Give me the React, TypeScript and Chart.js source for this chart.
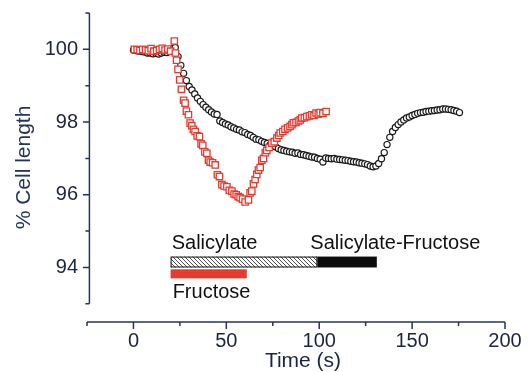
import { useEffect, useRef } from "react";
import { Chart, registerables } from "chart.js";

Chart.register(...registerables);

// ---- data ----
const fructoseTime = [
  0.5, 2, 3.5, 5, 6.5, 8, 9.5, 11, 12.5, 14, 15.5, 17, 18.5, 20, 22,
  22.6, 23.2, 24, 24.9, 25.8, 27, 27.8, 28.5, 29.6, 30.5, 31.4, 32.3, 33.2, 34.3, 35.5,
  36.4, 37.3, 38.4, 39.5, 40.4, 41.3, 42.6, 44, 45.2, 46.3, 47.6, 48.8, 50.3, 51.6, 53,
  54.2, 55.3, 56.4, 57.4, 58.7, 60.1, 61.9, 62.8, 63.7, 64.6, 65.5, 66.4, 67.3, 68.2, 69.1,
  70, 71, 71.8, 73, 74.5, 75.8, 77.2, 78.2, 79, 80.4, 81.6, 83, 84.3, 85.3, 86.1,
  87.5, 88.8, 89.8, 90.6, 92, 93.3, 94.7, 96, 97.2, 98.3, 99.5, 100.5, 102, 103.7,
];
const fructoseLength = [
  100.0, 99.99, 99.97, 100.0, 99.98, 99.96, 100.02, 99.95, 99.97, 100.0, 100.03, 99.98, 100.01, 99.95, 100.23,
  99.9, 99.7, 99.45, 99.16, 98.9, 98.6, 98.52, 98.3, 98.2, 97.97, 97.9, 97.8, 97.74, 97.62, 97.6,
  97.4, 97.36, 97.18, 97.14, 96.95, 96.9, 96.88, 96.82, 96.55, 96.5, 96.28, 96.24, 96.22, 96.12, 96.1,
  96.02, 96.0, 95.95, 95.92, 95.88, 95.8, 95.86, 96.05, 96.1, 96.3, 96.42, 96.56, 96.68, 96.75, 96.95,
  97.0, 97.16, 97.22, 97.3, 97.42, 97.46, 97.56, 97.63, 97.7, 97.74, 97.8, 97.84, 97.88, 97.93, 97.98,
  97.99, 98.03, 98.06, 98.11, 98.12, 98.15, 98.17, 98.2, 98.18, 98.25, 98.22, 98.26, 98.24, 98.29,
];

const salicylateTime = [
  0, 1.5, 3, 4.5, 6, 7.5, 9, 10.5, 12, 13.5, 15, 16.5, 18, 19.5, 21, 22.5, 24, 25.5, 27, 28.5,
  30, 31.5, 33, 34.5, 36, 37.5, 39, 40.5, 42, 43.5, 45, 46.5, 48, 49.5, 51, 52.5, 54, 55.5, 57, 58.5,
  60, 61.5, 63, 64.5, 66, 67.5, 69, 70.5, 72, 73.5, 75, 76.5, 78, 79.5, 81, 82.5, 84, 85.5, 87, 88.5,
  90, 91.5, 93, 94.5, 96, 97.5, 99, 100.5, 102, 103.5, 105, 106.5, 108, 109.5, 111, 112.5, 114, 115.5, 117, 118.5,
  120, 121.5, 123, 124.5, 126, 127.5, 129, 130.5, 132, 133.5, 135, 136.5, 138, 139.5, 141, 142.5, 144, 145.5, 147, 148.5,
  150, 151.5, 153, 154.5, 156, 157.5, 159, 160.5, 162, 163.5, 165, 166.5, 168, 169.5, 171, 172.5, 174, 175.5,
];
const salicylateLength = [
  99.98, 99.97, 99.95, 99.94, 99.93, 99.9, 99.9, 99.88, 99.89, 99.87, 99.9, 99.92, 99.91, 99.95, 100.02, 100.05, 99.8, 99.56, 99.34, 99.14,
  98.98, 98.88, 98.77, 98.66, 98.57, 98.48, 98.41, 98.34, 98.28, 98.22, 98.21, 98.03, 97.99, 97.95, 97.92, 97.87, 97.84, 97.8, 97.78, 97.73,
  97.71, 97.66, 97.63, 97.58, 97.53, 97.51, 97.47, 97.44, 97.41, 97.37, 97.34, 97.32, 97.27, 97.24, 97.22, 97.2, 97.18, 97.17, 97.14, 97.15,
  97.11, 97.1, 97.08, 97.06, 97.04, 97.03, 97.0, 96.98, 96.9, 97.01, 97.0, 96.99, 97.0, 96.98, 96.97, 96.96, 96.95, 96.94, 96.92, 96.91,
  96.9, 96.88, 96.87, 96.85, 96.83, 96.79, 96.77, 96.79, 96.86, 96.99, 97.16, 97.38, 97.58, 97.74, 97.85, 97.93, 98.0, 98.06, 98.11, 98.14,
  98.18, 98.21, 98.24, 98.26, 98.27, 98.29, 98.3, 98.31, 98.32, 98.33, 98.34, 98.36, 98.36, 98.35, 98.34, 98.32, 98.3, 98.26,
];

const xRange = [-25, 200];
const yRange = [92.5, 101];
const yAxisSpan = [93, 101];
const yAxisAtX = -23.7;
const xMajorTicks = [0, 50, 100, 150, 200];
const xMinorTicks = [-25, 25, 75, 125, 175];
const yMajorTicks = [94, 96, 98, 100];
const yMinorTicks = [93, 95, 97, 99, 101];

// treatment bars: hatched salicylate, black salicylate-fructose, red fructose
const barKind = ["hatch", "solid", "red"];
const barStart = [20, 99, 20];
const barEnd = [99, 131, 61];
const barLow = [94.0, 94.0, 93.7];
const barHigh = [94.3, 94.3, 93.95];

const noteText = ["Salicylate", "Salicylate-Fructose", "Fructose"];
const noteX = [20.6, 95.2, 21.1];
const noteY = [94.5, 94.5, 93.15];

const FONT = "'Liberation Sans', Arial, Helvetica, sans-serif";
const AXIS = "#24345a";
const LABEL = "#1b2442";
const RED = "#e23b30";

function makeHatch(ctx: CanvasRenderingContext2D) {
  const c = document.createElement("canvas");
  c.width = 4;
  c.height = 4;
  const g = c.getContext("2d")!;
  g.fillStyle = "#ffffff";
  g.fillRect(0, 0, 4, 4);
  g.strokeStyle = "#3a3a3a";
  g.lineWidth = 0.9;
  g.beginPath();
  g.moveTo(-1, -1);
  g.lineTo(5, 5);
  g.moveTo(-1, 3);
  g.lineTo(1, 5);
  g.moveTo(3, -1);
  g.lineTo(5, 1);
  g.stroke();
  return ctx.createPattern(c, "repeat");
}

const decorPlugin = {
  id: "decor",
  beforeDatasetsDraw(chart: any) {
    const { ctx, scales } = chart;
    const x = scales.x;
    const y = scales.y;
    ctx.save();
    for (let i = 0; i < barKind.length; i++) {
      const x0 = x.getPixelForValue(barStart[i]);
      const x1 = x.getPixelForValue(barEnd[i]);
      const y0 = y.getPixelForValue(barHigh[i]);
      const y1 = y.getPixelForValue(barLow[i]);
      if (barKind[i] === "hatch") {
        ctx.fillStyle = makeHatch(ctx) as any;
        ctx.fillRect(x0, y0, x1 - x0, y1 - y0);
        ctx.strokeStyle = "#111";
        ctx.lineWidth = 1;
        ctx.strokeRect(x0 + 0.5, y0 + 0.5, x1 - x0 - 1, y1 - y0 - 1);
      } else if (barKind[i] === "solid") {
        ctx.fillStyle = "#0c0c0c";
        ctx.fillRect(x0, y0, x1 - x0, y1 - y0);
      } else {
        ctx.fillStyle = RED;
        ctx.fillRect(x0, y0, x1 - x0, y1 - y0);
      }
    }
    ctx.fillStyle = "#111";
    ctx.font = `20px ${FONT}`;
    ctx.textAlign = "left";
    ctx.textBaseline = "alphabetic";
    for (let i = 0; i < noteText.length; i++) {
      ctx.fillText(noteText[i], x.getPixelForValue(noteX[i]), y.getPixelForValue(noteY[i]));
    }
    ctx.restore();
  },
  afterDraw(chart: any) {
    const { ctx, scales, chartArea } = chart;
    const x = scales.x;
    const y = scales.y;
    ctx.save();
    ctx.strokeStyle = AXIS;
    ctx.lineWidth = 1.5;
    const yb = chartArea.bottom;
    ctx.beginPath();
    ctx.moveTo(x.getPixelForValue(xRange[0]), yb);
    ctx.lineTo(x.getPixelForValue(xRange[1]), yb);
    xMajorTicks.forEach((v) => {
      const p = x.getPixelForValue(v);
      ctx.moveTo(p, yb);
      ctx.lineTo(p, yb + 7);
    });
    xMinorTicks.forEach((v) => {
      const p = x.getPixelForValue(v);
      ctx.moveTo(p, yb);
      ctx.lineTo(p, yb + 4);
    });
    const ax = x.getPixelForValue(yAxisAtX);
    ctx.moveTo(ax, y.getPixelForValue(yAxisSpan[0]));
    ctx.lineTo(ax, y.getPixelForValue(yAxisSpan[1]));
    yMajorTicks.forEach((v) => {
      const p = y.getPixelForValue(v);
      ctx.moveTo(ax, p);
      ctx.lineTo(ax - 6.5, p);
    });
    yMinorTicks.forEach((v) => {
      const p = y.getPixelForValue(v);
      ctx.moveTo(ax, p);
      ctx.lineTo(ax - 4, p);
    });
    ctx.stroke();

    // x axis title
    ctx.fillStyle = LABEL;
    ctx.font = `21px ${FONT}`;
    ctx.textAlign = "center";
    ctx.textBaseline = "alphabetic";
    ctx.fillText("Time (s)", (chartArea.left + chartArea.right) / 2 + 7, 367);
    ctx.restore();
  },
};

export default function App() {
  const ref = useRef<HTMLCanvasElement | null>(null);
  useEffect(() => {
    if (!ref.current) return;
    const chart = new Chart(ref.current, {
      type: "scatter",
      data: {
        datasets: [
          {
            label: "Fructose",
            data: fructoseTime.map((t, i) => ({ x: t, y: fructoseLength[i] })),
            pointStyle: "rect",
            pointRadius: 4.5,
            pointBorderWidth: 1.3,
            pointBorderColor: RED,
            pointBackgroundColor: "#ffffff",
            showLine: false,
          },
          {
            label: "Salicylate",
            data: salicylateTime.map((t, i) => ({ x: t, y: salicylateLength[i] })),
            pointStyle: "circle",
            pointRadius: 3.1,
            pointBorderWidth: 1.2,
            pointBorderColor: "#1a1a1a",
            pointBackgroundColor: "#ffffff",
            showLine: false,
          },
        ],
      },
      options: {
        animation: false,
        responsive: true,
        maintainAspectRatio: false,
        events: [],
        layout: { padding: { top: 13, right: 26, left: 0, bottom: 0 } },
        plugins: { legend: { display: false }, tooltip: { enabled: false } },
        scales: {
          x: {
            type: "linear",
            min: xRange[0],
            max: xRange[1],
            grid: { display: false, drawTicks: false },
            border: { display: false },
            afterBuildTicks: (s: any) => {
              s.ticks = xMajorTicks.map((v) => ({ value: v }));
            },
            afterFit: (s: any) => {
              s.height = 50;
              s.paddingLeft = 0;
              s.paddingRight = 0;
            },
            ticks: {
              color: LABEL,
              padding: 7,
              maxRotation: 0,
              autoSkip: false,
              font: { family: FONT, size: 20, lineHeight: 1.2 },
            },
          },
          y: {
            type: "linear",
            min: yRange[0],
            max: yRange[1],
            grid: { display: false, drawTicks: false },
            border: { display: false },
            afterBuildTicks: (s: any) => {
              s.ticks = yMajorTicks.map((v) => ({ value: v }));
            },
            afterFit: (s: any) => {
              s.width = 87;
              s.paddingTop = 0;
              s.paddingBottom = 0;
            },
            title: {
              display: true,
              text: "% Cell length",
              color: AXIS,
              padding: { top: 12, bottom: 0 },
              font: { family: FONT, size: 21, lineHeight: 1.2 },
            },
            ticks: {
              color: LABEL,
              padding: 9,
              autoSkip: false,
              font: { family: FONT, size: 20, lineHeight: 1.2 },
            },
          },
        },
      },
      plugins: [decorPlugin],
    });
    return () => chart.destroy();
  }, []);
  return (
    <div style={{ position: "absolute", left: 0, top: 0, width: 531, height: 372 }}>
      <canvas ref={ref} />
    </div>
  );
}
